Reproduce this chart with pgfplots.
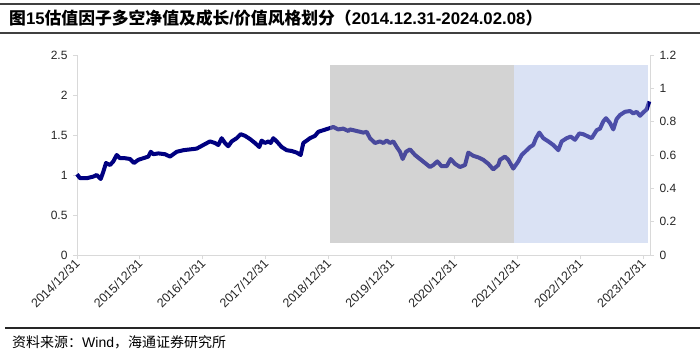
\documentclass[border=0pt]{standalone}
\usepackage{pgfplots}
\pgfplotsset{compat=1.18}
\usepackage{fontspec}
\setmainfont{Liberation Sans}
\newfontfamily\cjk{Noto Sans CJK SC}
\definecolor{navyline}{RGB}{0,0,128}
\definecolor{regiongray}{RGB}{211,211,211}
\definecolor{regionblue}{RGB}{218,226,244}
\definecolor{axisgray}{RGB}{217,217,217}
\definecolor{rulegray}{RGB}{64,64,64}
\begin{document}
\begin{tikzpicture}[x=1pt,y=1pt]
\useasboundingbox (0,0) rectangle (700,362);
\draw[line width=2pt, rulegray] (0,358) -- (700,358);
\draw[line width=1.5pt, rulegray] (0,329) -- (700,329);
\draw[line width=2pt, black!85] (5,34) -- (700,34);
\node[anchor=west, inner sep=0pt] at (9,344) {\bfseries\fontsize{16.8}{19}\selectfont{\cjk 图}15{\cjk 估值因子多空净值及成长}/{\cjk 价值风格划分（}2014.12.31-2024.02.08{\cjk ）}};
\node[anchor=west, inner sep=0pt] at (12,20) {\fontsize{14}{16}\selectfont{\cjk 资料来源：}Wind{\cjk ，海通证券研究所}};

\pgfplotsset{
  base/.style={at={(77pt,107pt)}, anchor=south west, scale only axis,
    width=573pt, height=200pt, xmin=0, xmax=9.11,
    tick align=outside, major tick length=4pt,
    tick style={axisgray, line width=0.8pt},
    axis line style={axisgray, line width=0.8pt},
    ticklabel style={font=\fontsize{12}{14}\selectfont, text=black!85},
    /pgf/number format/assume math mode=true, clip=false},
}
% right axis with shaded regions (opaque)
\begin{axis}[base, ymin=0, ymax=1.2, axis y line*=right, axis x line=none,
  ytick={0,0.2,0.4,0.6,0.8,1,1.2}, yticklabel style={xshift=2pt}]
\addplot[fill=regiongray, draw=none] coordinates {(4.02,0.074) (6.94,0.074) (6.94,1.14) (4.02,1.14)} -- cycle;
\addplot[fill=regionblue, draw=none] coordinates {(6.94,0.074) (9.08,0.074) (9.08,1.14) (6.94,1.14)} -- cycle;
\end{axis}
% left axis with line
\begin{axis}[base, ymin=0, ymax=2.5, axis y line*=left, axis x line*=bottom,
  ytick={0,0.5,1,1.5,2,2.5}, yticklabel style={xshift=-2pt},
  xtick={0,1,2,3,4,5,6,7,8,9},
  xticklabels={2014/12/31,2015/12/31,2016/12/31,2017/12/31,2018/12/31,2019/12/31,2020/12/31,2021/12/31,2022/12/31,2023/12/31},
  xticklabel style={rotate=45, anchor=east, yshift=-2pt, xshift=2pt, font=\fontsize{12.5}{14}\selectfont}]
\addplot[navyline, line width=4pt, line join=round] table {
x y
0.000 1.01
0.048 0.96
0.154 0.96
0.259 0.98
0.313 1.00
0.377 0.95
0.418 1.04
0.461 1.15
0.525 1.125
0.577 1.17
0.631 1.25
0.684 1.21
0.763 1.21
0.843 1.20
0.906 1.15
0.975 1.19
1.054 1.21
1.134 1.23
1.172 1.29
1.213 1.26
1.293 1.27
1.399 1.26
1.479 1.23
1.585 1.29
1.690 1.31
1.797 1.32
1.903 1.33
2.008 1.375
2.114 1.42
2.194 1.40
2.246 1.375
2.300 1.46
2.353 1.40
2.405 1.36
2.459 1.42
2.539 1.46
2.602 1.51
2.671 1.49
2.750 1.45
2.830 1.40
2.898 1.35
2.936 1.43
2.989 1.40
3.041 1.42
3.079 1.40
3.121 1.46
3.175 1.42
3.254 1.35
3.334 1.31
3.413 1.30
3.493 1.28
3.556 1.25
3.598 1.40
3.652 1.43
3.704 1.46
3.784 1.49
3.836 1.54
3.916 1.56
3.995 1.58
4.075 1.60
4.154 1.57
4.234 1.58
4.313 1.55
4.340 1.57
4.447 1.55
4.552 1.53
4.606 1.54
4.658 1.46
4.738 1.40
4.817 1.42
4.870 1.40
4.924 1.43
4.976 1.40
5.029 1.42
5.083 1.35
5.135 1.29
5.178 1.20
5.231 1.29
5.294 1.32
5.374 1.25
5.453 1.20
5.533 1.15
5.612 1.10
5.665 1.125
5.728 1.17
5.798 1.11
5.878 1.11
5.941 1.20
6.010 1.14
6.089 1.10
6.169 1.125
6.221 1.28
6.300 1.24
6.380 1.22
6.459 1.19
6.539 1.14
6.618 1.07
6.698 1.125
6.725 1.19
6.804 1.23
6.857 1.19
6.936 1.08
7.016 1.17
7.070 1.25
7.150 1.31
7.202 1.35
7.254 1.375
7.297 1.46
7.350 1.53
7.413 1.46
7.493 1.42
7.572 1.375
7.652 1.31
7.706 1.42
7.785 1.46
7.849 1.48
7.917 1.44
7.986 1.52
8.049 1.51
8.129 1.48
8.183 1.46
8.262 1.56
8.315 1.58
8.367 1.67
8.410 1.71
8.474 1.65
8.526 1.57
8.580 1.70
8.633 1.75
8.712 1.79
8.792 1.80
8.844 1.77
8.898 1.79
8.951 1.74
9.014 1.79
9.057 1.82
9.099 1.92
};
\end{axis}
% translucent overlay of the regions on top of the line
\begin{axis}[base, ymin=0, ymax=1.2, axis lines=none]
\addplot[fill=regiongray, fill opacity=0.35, draw=none] coordinates {(4.02,0.074) (6.94,0.074) (6.94,1.14) (4.02,1.14)} -- cycle;
\addplot[fill=regionblue, fill opacity=0.35, draw=none] coordinates {(6.94,0.074) (9.08,0.074) (9.08,1.14) (6.94,1.14)} -- cycle;
\end{axis}
\end{tikzpicture}
\end{document}
